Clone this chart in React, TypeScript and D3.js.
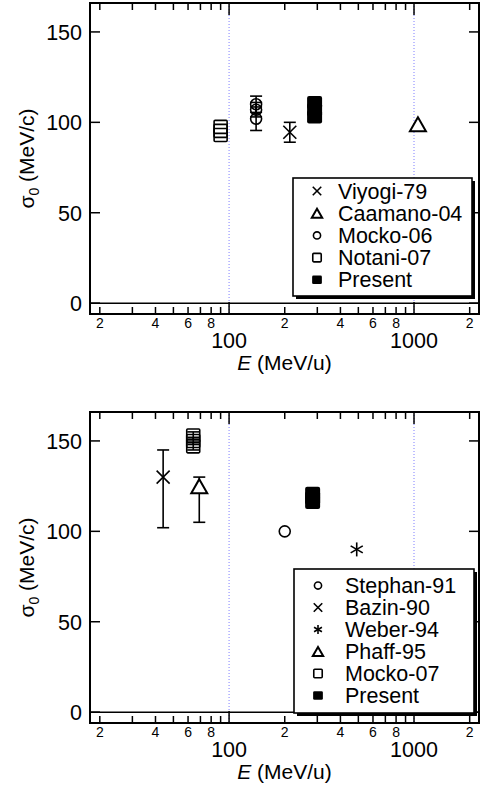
import React from 'react';
import * as d3 from 'd3';

const FONT = '"Liberation Sans", Arial, Helvetica, sans-serif';

// ---------- upper panel data ----------
const viyogiE = [213];
const viyogiSigma = [94.5];
const viyogiErr = [5.5];

const caamanoE = [1050];
const caamanoSigma = [99];

const mocko06E = [140, 140, 140];
const mocko06Sigma = [110, 107, 102];
const mocko06Err = [4.5, 4, 6.5];

const notaniE = [90, 90, 90];
const notaniSigma = [97.5, 95.3, 93];

const presentAE = [290, 290, 290];
const presentASigma = [111, 107, 103];

// ---------- lower panel data ----------
const stephanE = [200];
const stephanSigma = [100];

const bazinE = [44];
const bazinSigma = [130];
const bazinErrLo = [28];
const bazinErrHi = [15];

const weberE = [490];
const weberSigma = [90];

const phaffE = [69];
const phaffSigma = [125];
const phaffErrLo = [20];
const phaffErrHi = [5];

const mocko07E = [64, 64, 64];
const mocko07Sigma = [153, 150, 147];
const mocko07Err = [2, 2, 2];

const presentBE = [283, 283, 283];
const presentBSigma = [121, 118.5, 116];

// ---------- axes ----------
const xDomain = [17.7, 2246];
const yDomain = [-6, 166];
const yTicks = [0, 50, 100, 150];
const xMinorTicks = [20, 30, 40, 50, 60, 70, 80, 90, 200, 300, 400, 500, 600, 700, 800, 900, 2000];
const xMinorLabels: Record<number, string> = { 20: '2', 40: '4', 60: '6', 80: '8', 200: '2', 400: '4', 600: '6', 800: '8', 2000: '2' };
const xMajorTicks = [100, 1000];
const xMajorLabels = ['100', '1000'];
const guideLines = [100, 1000];

const legendA = ['Viyogi-79', 'Caamano-04', 'Mocko-06', 'Notani-07', 'Present'];
const legendAKinds = ['times', 'triangle', 'circle', 'square', 'filled'];
const legendB = ['Stephan-91', 'Bazin-90', 'Weber-94', 'Phaff-95', 'Mocko-07', 'Present'];
const legendBKinds = ['circle', 'times', 'asterisk', 'triangle', 'square', 'filled'];

type Kind = 'times' | 'triangle' | 'circle' | 'square' | 'filled' | 'asterisk';

interface Series {
  kind: Kind;
  E: number[];
  sigma: number[];
  errLo?: number[];
  errHi?: number[];
}

function Marker({ kind, x, y, s }: { kind: string; x: number; y: number; s: number }) {
  const sw = 1.6;
  switch (kind) {
    case 'times': {
      const h = 6.5 * s;
      return (
        <g stroke="#000" strokeWidth={sw}>
          <line x1={x - h} y1={y - h} x2={x + h} y2={y + h} />
          <line x1={x - h} y1={y + h} x2={x + h} y2={y - h} />
        </g>
      );
    }
    case 'asterisk': {
      const h = 7 * s;
      const c = Math.cos(Math.PI / 6) * h;
      const sn = Math.sin(Math.PI / 6) * h;
      return (
        <g stroke="#000" strokeWidth={sw}>
          <line x1={x} y1={y - h} x2={x} y2={y + h} />
          <line x1={x - c} y1={y - sn} x2={x + c} y2={y + sn} />
          <line x1={x - c} y1={y + sn} x2={x + c} y2={y - sn} />
        </g>
      );
    }
    case 'triangle': {
      const w = 8 * s;
      const h = 7 * s;
      return (
        <path
          d={`M${x},${y - h}L${x + w},${y + h}L${x - w},${y + h}Z`}
          fill="#fff"
          stroke="#000"
          strokeWidth={sw + 0.4}
          strokeLinejoin="miter"
        />
      );
    }
    case 'circle':
      return <circle cx={x} cy={y} r={5.5 * s} fill="none" stroke="#000" strokeWidth={sw} />;
    case 'square': {
      const h = 6.5 * s;
      return <rect x={x - h} y={y - h} width={2 * h} height={2 * h} fill="none" stroke="#000" strokeWidth={sw} rx={1} />;
    }
    case 'filled': {
      const w = 7.5 * s;
      const h = 6.5 * s;
      return <rect x={x - w} y={y - h} width={2 * w} height={2 * h} fill="#000" rx={2 * s} />;
    }
  }
  return null;
}

interface PanelProps {
  top: number;
  series: Series[];
  legend: string[];
  legendKinds: string[];
  legendBox: { x: number; y: number; w: number; h: number; markerX: number; textX: number; firstBase: number; step: number };
}

function Panel({ top, series, legend, legendKinds, legendBox }: PanelProps) {
  const left = 90;
  const right = 479;
  const bottom = top + 311;
  const x = d3.scaleLog().domain(xDomain).range([left, right]);
  const y = d3.scaleLinear().domain(yDomain).range([bottom, top]);

  return (
    <g fontFamily={FONT}>
      {/* dotted guides at the decades */}
      {guideLines.map((v) => (
        <line key={v} x1={x(v)} x2={x(v)} y1={top} y2={bottom} stroke="#7f7fff" strokeWidth={1} strokeDasharray="1,2" />
      ))}
      {/* zero line */}
      <line x1={left} x2={right} y1={y(0)} y2={y(0)} stroke="#000" strokeWidth={1.5} />

      {/* data points with error bars */}
      {series.map((s, si) =>
        s.E.map((e, i) => {
          const px = x(e);
          const py = y(s.sigma[i]);
          const lo = s.errLo ? s.errLo[i] : 0;
          const hi = s.errHi ? s.errHi[i] : 0;
          return (
            <g key={`${si}-${i}`}>
              {(lo > 0 || hi > 0) && (
                <g stroke="#000" strokeWidth={1.6}>
                  <line x1={px} x2={px} y1={y(s.sigma[i] + hi)} y2={y(s.sigma[i] - lo)} />
                  <line x1={px - 6} x2={px + 6} y1={y(s.sigma[i] + hi)} y2={y(s.sigma[i] + hi)} />
                  <line x1={px - 6} x2={px + 6} y1={y(s.sigma[i] - lo)} y2={y(s.sigma[i] - lo)} />
                </g>
              )}
              <Marker kind={s.kind} x={px} y={py} s={1} />
            </g>
          );
        })
      )}

      {/* ticks, mirrored on all four sides */}
      <g stroke="#000" strokeWidth={1.5}>
        {xMinorTicks.map((v) => (
          <g key={v}>
            <line x1={x(v)} x2={x(v)} y1={bottom} y2={bottom - 7} />
            <line x1={x(v)} x2={x(v)} y1={top} y2={top + 7} />
          </g>
        ))}
        {xMajorTicks.map((v) => (
          <g key={v}>
            <line x1={x(v)} x2={x(v)} y1={bottom} y2={bottom - 12} />
            <line x1={x(v)} x2={x(v)} y1={top} y2={top + 12} />
          </g>
        ))}
        {yTicks.map((v) => (
          <g key={v}>
            <line x1={left} x2={left + 10} y1={y(v)} y2={y(v)} />
            <line x1={right} x2={right - 10} y1={y(v)} y2={y(v)} />
          </g>
        ))}
      </g>

      {/* frame */}
      <rect x={left} y={top} width={right - left} height={bottom - top} fill="none" stroke="#000" strokeWidth={2} />

      {/* tick labels */}
      {yTicks.map((v) => (
        <text key={v} x={left - 8} y={y(v) + 7.8} textAnchor="end" fontSize={21.5}>
          {v}
        </text>
      ))}
      {xMinorTicks
        .filter((v) => xMinorLabels[v])
        .map((v) => (
          <text key={v} x={x(v)} y={bottom + 13.5} textAnchor="middle" fontSize={14}>
            {xMinorLabels[v]}
          </text>
        ))}
      {xMajorTicks.map((v, i) => (
        <text key={v} x={x(v)} y={bottom + 34} textAnchor="middle" fontSize={21.5}>
          {xMajorLabels[i]}
        </text>
      ))}

      {/* axis titles */}
      <text x={(left + right) / 2} y={bottom + 56} textAnchor="middle" fontSize={21}>
        <tspan fontStyle="italic">E</tspan> (MeV/u)
      </text>
      <text
        transform={`translate(34,${(top + bottom) / 2}) rotate(-90)`}
        textAnchor="middle"
        fontSize={21}
      >
        σ<tspan fontSize={14} dy={5}>0</tspan>
        <tspan dy={-5}> (MeV/c)</tspan>
      </text>

      {/* legend with drop shadow */}
      <rect x={legendBox.x + 3} y={legendBox.y + 3} width={legendBox.w} height={legendBox.h} fill="#000" />
      <rect x={legendBox.x} y={legendBox.y} width={legendBox.w} height={legendBox.h} fill="#fff" stroke="#000" strokeWidth={1.6} />
      {legend.map((label, i) => {
        const base = legendBox.firstBase + i * legendBox.step;
        return (
          <g key={label}>
            <Marker kind={legendKinds[i]} x={legendBox.markerX} y={base - 7.5} s={0.65} />
            <text x={legendBox.textX} y={base} fontSize={21.5}>
              {label}
            </text>
          </g>
        );
      })}
    </g>
  );
}

export default function App() {
  const seriesA: Series[] = [
    { kind: 'square', E: notaniE, sigma: notaniSigma },
    { kind: 'circle', E: mocko06E, sigma: mocko06Sigma, errLo: mocko06Err, errHi: mocko06Err },
    { kind: 'times', E: viyogiE, sigma: viyogiSigma, errLo: viyogiErr, errHi: viyogiErr },
    { kind: 'filled', E: presentAE, sigma: presentASigma },
    { kind: 'triangle', E: caamanoE, sigma: caamanoSigma },
  ];
  const seriesB: Series[] = [
    { kind: 'times', E: bazinE, sigma: bazinSigma, errLo: bazinErrLo, errHi: bazinErrHi },
    { kind: 'triangle', E: phaffE, sigma: phaffSigma, errLo: phaffErrLo, errHi: phaffErrHi },
    { kind: 'square', E: mocko07E, sigma: mocko07Sigma, errLo: mocko07Err, errHi: mocko07Err },
    { kind: 'circle', E: stephanE, sigma: stephanSigma },
    { kind: 'asterisk', E: weberE, sigma: weberSigma },
    { kind: 'filled', E: presentBE, sigma: presentBSigma },
  ];
  return (
    <svg width={484} height={785} style={{ position: 'absolute', left: 0, top: 0, background: '#fff' }}>
      <rect width={484} height={785} fill="#fff" />
      <Panel
        top={3}
        series={seriesA}
        legend={legendA}
        legendKinds={legendAKinds}
        legendBox={{ x: 293, y: 178, w: 179, h: 118, markerX: 317, textX: 338, firstBase: 198.5, step: 22.2 }}
      />
      <Panel
        top={412}
        series={seriesB}
        legend={legendB}
        legendKinds={legendBKinds}
        legendBox={{ x: 294, y: 569, w: 180, h: 144, markerX: 318, textX: 345, firstBase: 593, step: 22 }}
      />
    </svg>
  );
}
